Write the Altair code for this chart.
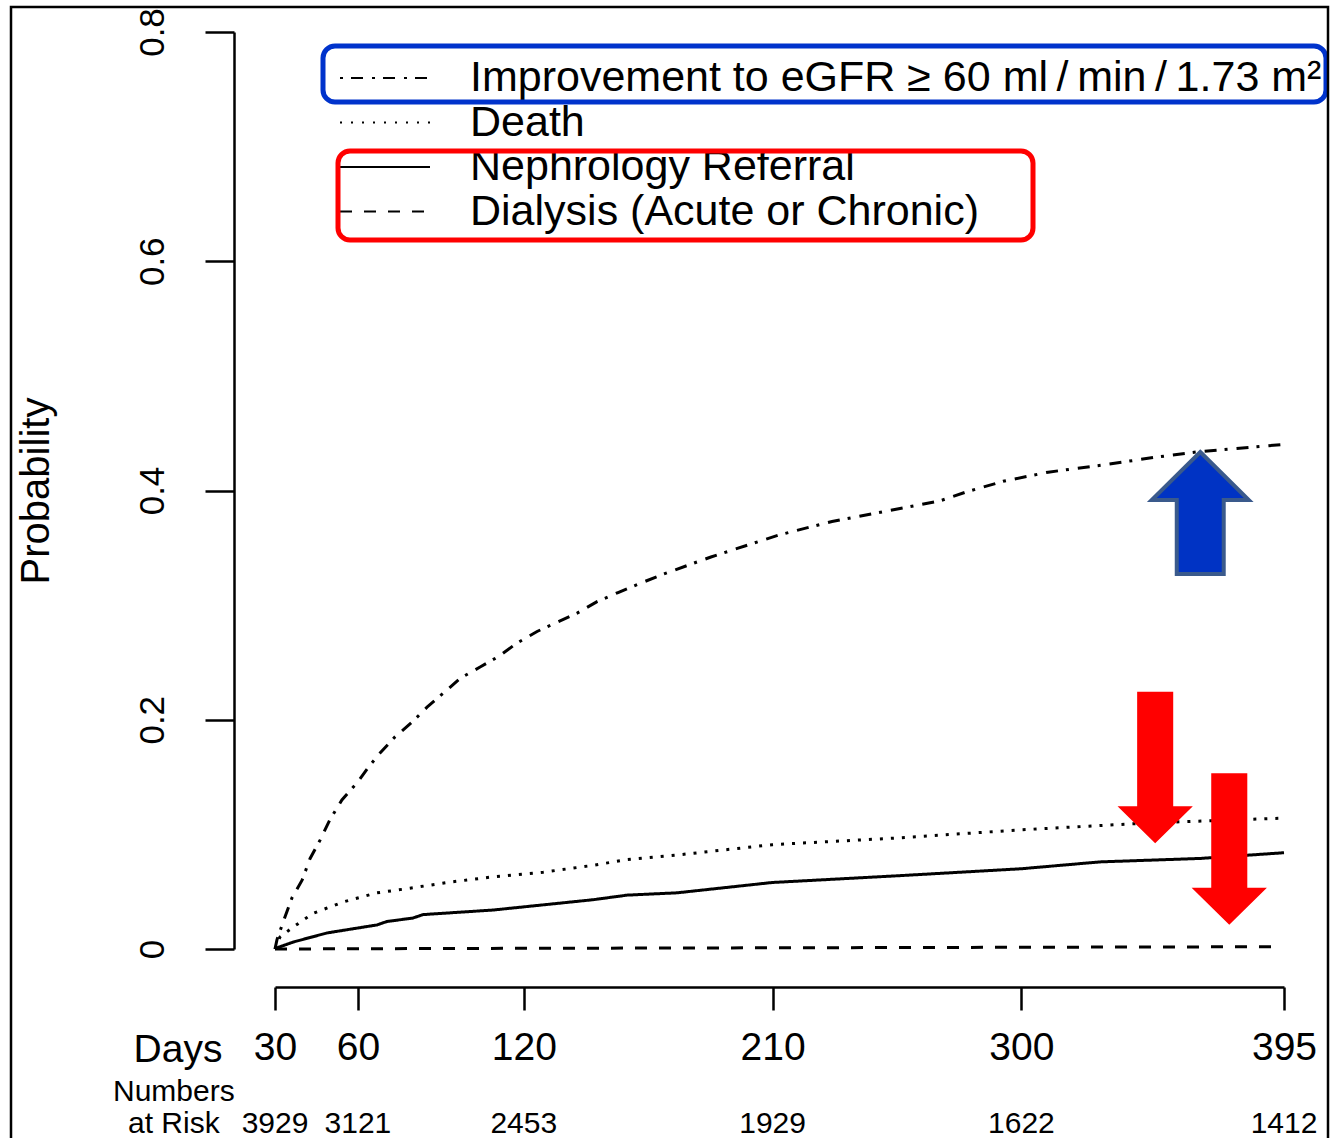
import altair as alt
import pandas as pd

FONT = "Liberation Sans"

series_names = [
    "Improvement to eGFR \u2265 60 ml\u2009/\u2009min\u2009/\u20091.73 m\u00b2",
    "Death",
    "Nephrology Referral",
    "Dialysis (Acute or Chronic)",
]

improve_days = [30, 30.7, 33.6, 36.2, 39.8, 42.7, 46.3, 49.9, 54.2, 59.7, 63.6, 68.0, 73.4, 79.6,
                85.0, 90.8, 96.9, 104.2, 110.7, 117.6, 124.8, 132.0, 139.3, 146.5, 154.1, 162.1,
                170.4, 187.7, 212.0, 231.5, 251.1, 270.6, 280.4, 293.4, 309.7, 328.8, 348.4,
                364.7, 394.0]
improve_prob = [0, 0.008, 0.028, 0.045, 0.060, 0.079, 0.095, 0.113, 0.130, 0.145, 0.158, 0.171,
                0.185, 0.198, 0.211, 0.223, 0.236, 0.246, 0.255, 0.267, 0.277, 0.285, 0.293,
                0.303, 0.311, 0.319, 0.327, 0.342, 0.361, 0.373, 0.382, 0.391, 0.399, 0.408,
                0.416, 0.422, 0.429, 0.434, 0.440]

death_days = [30, 31.8, 36.5, 43.7, 54.6, 66.9, 78.8, 92.2, 108.9, 127.0, 145.1, 157.4, 175.4,
              209.8, 256.1, 299.9, 346.6, 393.0]
death_prob = [0, 0.0105, 0.019, 0.031, 0.041, 0.049, 0.053, 0.058, 0.063, 0.067, 0.073, 0.078,
              0.082, 0.091, 0.097, 0.104, 0.110, 0.114]

referral_days = [30, 30.7, 36.5, 48.8, 66.9, 70.5, 79.9, 83.5, 108.9, 145.1, 157.4, 175.4,
                 209.8, 256.1, 299.9, 328.5, 364.7, 395.0]
referral_prob = [0, 0.001, 0.006, 0.014, 0.021, 0.024, 0.027, 0.030, 0.034, 0.043, 0.047, 0.049,
                 0.058, 0.064, 0.070, 0.076, 0.079, 0.084]

dialysis_days = [30, 100, 200, 300, 391]
dialysis_prob = [0, 0.0005, 0.001, 0.0015, 0.002]

risk_days = [30, 60, 120, 210, 300, 395]
risk_numbers = ["3929", "3121", "2453", "1929", "1622", "1412"]

y_ticks = [0, 0.2, 0.4, 0.6, 0.8]

# annotation arrows (centre in data units)
arrow_days = [364.7, 348.4, 375.2]
arrow_probs = [0.3804, 0.1583, 0.0872]

# ---------------------------------------------------------------- data tables
frames = []
for name, d, p in zip(series_names,
                      [improve_days, death_days, referral_days, dialysis_days],
                      [improve_prob, death_prob, referral_prob, dialysis_prob]):
    frames.append(pd.DataFrame({"day": d, "prob": p, "series": name}))
curves = pd.concat(frames, ignore_index=True)
risk_df = pd.DataFrame({"day": risk_days, "n": risk_numbers})
one = pd.DataFrame({"a": [0]})

dash_styles = [[12, 8, 3, 9], [3, 8], [1, 0], [12, 12]]

xscale = alt.Scale(domain=[30, 395], nice=False, zero=False)
yscale = alt.Scale(domain=[0, 0.8], nice=False, zero=True)

xaxis = alt.Axis(values=risk_days, offset=38, tickSize=23, tickWidth=2.5, domainWidth=2.5,
                 domainColor="black", tickColor="black", labelColor="black",
                 labelFont=FONT, labelFontSize=39, labelPadding=18, labelFlush=False,
                 labelOverlap=False, grid=False, title=None)
yaxis = alt.Axis(values=y_ticks, offset=41, tickSize=29, tickWidth=2.5, domainWidth=2.5,
                 domainColor="black", tickColor="black", labelColor="black",
                 labelFont=FONT, labelFontSize=35, labelAngle=-90, labelAlign="center",
                 labelBaseline="bottom", labelPadding=35, labelOverlap=False,
                 labelExpr="datum.value == 0 ? '0' : format(datum.value, '.1f')",
                 grid=False, title=None)

lines = alt.Chart(curves).mark_line(color="black", strokeWidth=3, clip=False).encode(
    x=alt.X("day:Q", scale=xscale, axis=xaxis),
    y=alt.Y("prob:Q", scale=yscale, axis=yaxis),
    strokeDash=alt.StrokeDash("series:N",
                              scale=alt.Scale(domain=series_names, range=dash_styles),
                              legend=None),
    detail="series:N",
)

risk_text = alt.Chart(risk_df).mark_text(font=FONT, fontSize=30, baseline="alphabetic",
                                         align="center", color="black").encode(
    x=alt.X("day:Q", scale=xscale, axis=xaxis),
    y=alt.value(1101),
    text="n:N",
)

layers = [lines, risk_text]

# static texts
def text_layer(txt, x, y, size, align="center", baseline="alphabetic", angle=0):
    kw = dict(font=FONT, fontSize=size, align=align, baseline=baseline, color="black")
    if angle:
        kw["angle"] = angle
    return alt.Chart(one).mark_text(**kw).encode(
        x=alt.value(x), y=alt.value(y), text=alt.value(txt))

layers.append(text_layer("Days", -97, 1030, 39))
layers.append(text_layer("Numbers", -162, 1069, 30, align="left"))
layers.append(text_layer("at Risk", -147, 1101, 30, align="left"))
layers.append(text_layer("Probability", -226, 459, 40, angle=270))

# legend
legend_dash = [[3, 8, 12, 9], [2, 9], [1, 0], [12, 12]]
for i, name in enumerate(series_names):
    ypix = 46 + 44.5 * i
    layers.append(alt.Chart(one).mark_rule(color="black", strokeWidth=2,
                                           strokeDash=legend_dash[i]).encode(
        x=alt.value(65), x2=alt.value(155), y=alt.value(ypix)))
    layers.append(text_layer(name, 195, ypix, 43, align="left", baseline="middle"))

# highlight boxes
layers.append(alt.Chart(one).mark_rect(fill="white", fillOpacity=0, stroke="#0033cc",
                                       strokeWidth=5, cornerRadius=12).encode(
    x=alt.value(48), x2=alt.value(1051), y=alt.value(14), y2=alt.value(70)))
layers.append(alt.Chart(one).mark_rect(fill="white", fillOpacity=0, stroke="#ff0000",
                                       strokeWidth=5, cornerRadius=12).encode(
    x=alt.value(63), x2=alt.value(758), y=alt.value(119), y2=alt.value(208)))

# outer frame
layers.append(alt.Chart(one).mark_rect(fill="white", fillOpacity=0, stroke="black",
                                       strokeWidth=2.5).encode(
    x=alt.value(-264), x2=alt.value(1053), y=alt.value(-25), y2=alt.value(1125)))

# arrows
up_path = "M0,-1 L0.795,-0.213 L0.385,-0.213 L0.385,1 L-0.385,1 L-0.385,-0.213 L-0.795,-0.213 Z"
down_path = "M-0.238,-1 L0.238,-1 L0.238,0.51 L0.497,0.51 L0,1 L-0.497,0.51 L-0.238,0.51 Z"

arrow_df = pd.DataFrame({"day": arrow_days, "prob": arrow_probs})
layers.append(alt.Chart(arrow_df.iloc[[0]]).mark_point(
    shape=up_path, filled=True, fill="#0033c4", stroke="#3a5a8c", strokeWidth=4,
    size=14884, opacity=1, fillOpacity=1).encode(
    x=alt.X("day:Q", scale=xscale, axis=xaxis),
    y=alt.Y("prob:Q", scale=yscale, axis=yaxis)))
layers.append(alt.Chart(arrow_df.iloc[[1, 2]]).mark_point(
    shape=down_path, filled=True, fill="#ff0000", strokeWidth=0,
    size=22950, opacity=1, fillOpacity=1).encode(
    x=alt.X("day:Q", scale=xscale, axis=xaxis),
    y=alt.Y("prob:Q", scale=yscale, axis=yaxis)))

chart = alt.layer(*layers).properties(
    width=1009, height=917,
    padding={"left": 275, "top": 32, "right": 46, "bottom": 189},
    autosize=alt.AutoSizeParams(type="none"),
    background="white",
).configure_view(strokeWidth=0)

chart.save("out.html", embed_options={"renderer": "svg", "actions": False})
